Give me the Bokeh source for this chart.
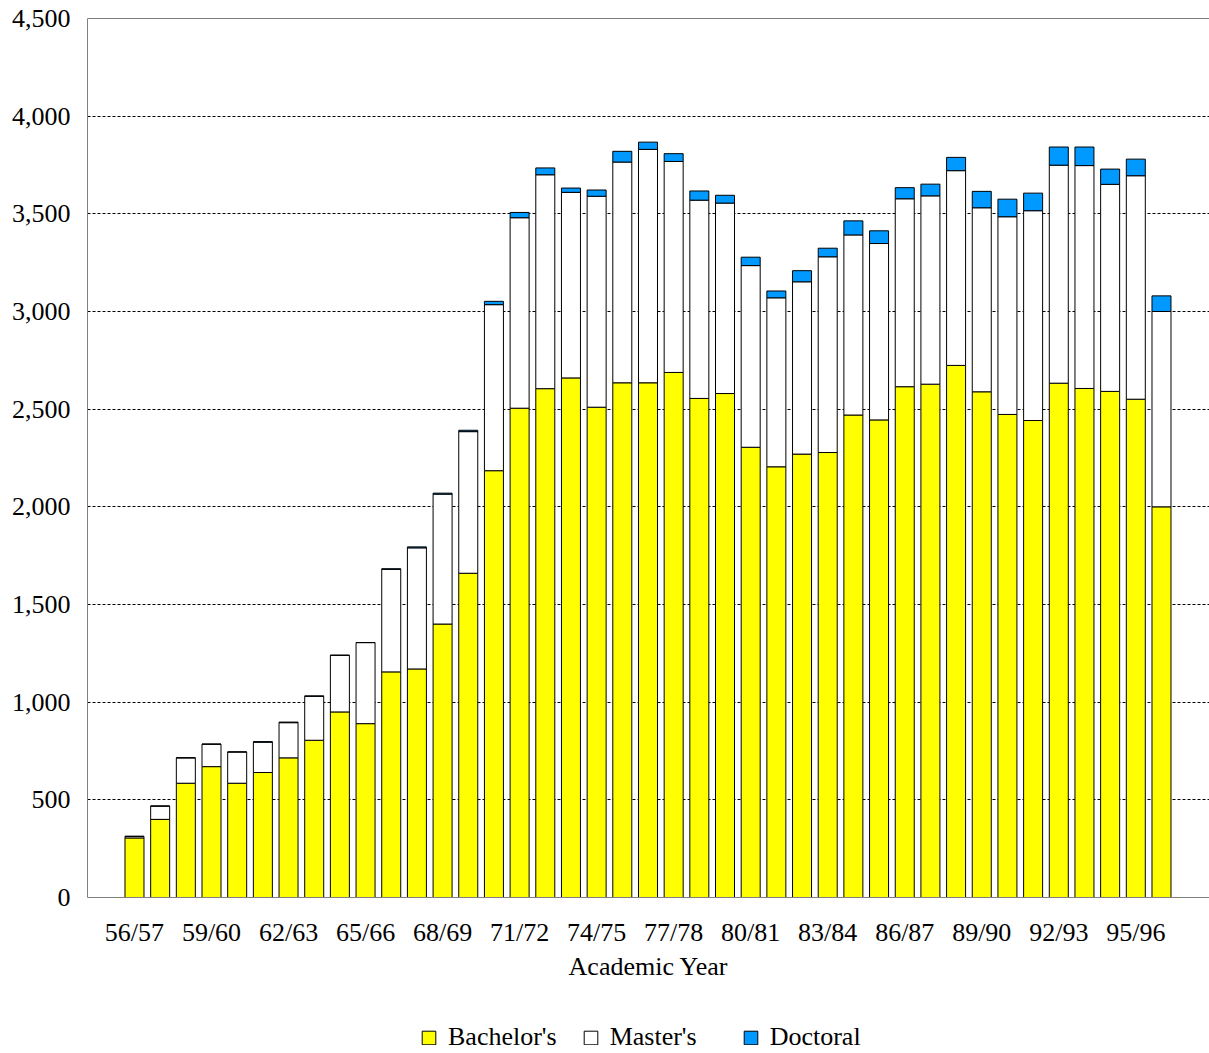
from bokeh.plotting import figure
from bokeh.layouts import column
from bokeh.models import (ColumnDataSource, Range1d, FixedTicker, NumeralTickFormatter,
                          Legend, LegendItem, Span)
from bokeh.embed import file_html
from bokeh.resources import INLINE

years = ["56/57", "57/58", "58/59", "59/60", "60/61", "61/62", "62/63", "63/64", "64/65",
         "65/66", "66/67", "67/68", "68/69", "69/70", "70/71", "71/72", "72/73", "73/74",
         "74/75", "75/76", "76/77", "77/78", "78/79", "79/80", "80/81", "81/82", "82/83",
         "83/84", "84/85", "85/86", "86/87", "87/88", "88/89", "89/90", "90/91", "91/92",
         "92/93", "93/94", "94/95", "95/96", "96/97"]
bachelors = [305, 400, 585, 670, 585, 640, 715, 805, 950, 890, 1155, 1170, 1400, 1660,
             2185, 2505, 2605, 2660, 2510, 2635, 2635, 2688, 2555, 2580, 2305, 2205, 2270,
             2278, 2470, 2445, 2615, 2628, 2724, 2589, 2473, 2442, 2633, 2606, 2591, 2551, 2000]
masters = [8, 68, 130, 115, 160, 155, 180, 225, 290, 415, 525, 620, 665, 725,
           850, 975, 1095, 950, 1080, 1130, 1195, 1080, 1015, 975, 930, 865, 882,
           1002, 922, 903, 962, 964, 997, 942, 1012, 1074, 1116, 1141, 1060, 1144, 1000]
doctoral = [0, 0, 0, 0, 0, 3, 3, 2, 0, 0, 3, 5, 5, 7,
            17, 27, 35, 22, 32, 55, 37, 40, 47, 40, 43, 35, 57,
            44, 72, 65, 57, 60, 68, 84, 90, 90, 93, 95, 78, 85, 80]
series = ["Bachelor's", "Master's", "Doctoral"]
colors = ["#FFFF00", "#FFFFFF", "#0099FF"]
label_every = 3

FONT = "Liberation Serif"
FS = "26px"
x = list(range(len(years)))
src = ColumnDataSource(dict(x=x, Bachelor=bachelors, Master=masters, Doctoral=doctoral))

p = figure(frame_width=1122, frame_height=879, output_backend="svg", toolbar_location=None,
           x_range=Range1d(-1.83, 41.87), y_range=Range1d(0, 4500),
           min_border_left=87, min_border_top=18, min_border_right=0, min_border_bottom=115)

r = p.vbar_stack(["Bachelor", "Master", "Doctoral"], x="x", width=0.74, source=src,
                 fill_color=colors, line_color="black", line_width=1)

p.outline_line_color = None
p.add_layout(Span(location=4500, dimension="width", line_color="black", line_width=1))

p.xgrid.grid_line_color = None
p.ygrid.grid_line_color = "black"
p.ygrid.grid_line_dash = "3 2"
p.ygrid.grid_line_width = 1

ya = p.yaxis[0]
ya.ticker = FixedTicker(ticks=list(range(0, 4501, 500)))
ya.formatter = NumeralTickFormatter(format="0,0")
ya.major_tick_line_color = None
ya.minor_tick_line_color = None
ya.axis_line_color = "#808080"
ya.major_label_text_font = FONT
ya.major_label_text_font_size = FS
ya.major_label_text_color = "black"
ya.major_label_standoff = 11

xa = p.xaxis[0]
xa.ticker = FixedTicker(ticks=x[::label_every])
xa.major_label_overrides = {i: years[i] for i in x[::label_every]}
xa.major_tick_line_color = None
xa.minor_tick_line_color = None
xa.axis_line_color = "#808080"
xa.major_label_text_font = FONT
xa.major_label_text_font_size = FS
xa.major_label_text_color = "black"
xa.major_label_standoff = 14
xa.axis_label = "Academic Year"
xa.axis_label_text_font = FONT
xa.axis_label_text_font_size = FS
xa.axis_label_text_font_style = "normal"
xa.axis_label_text_color = "black"
xa.axis_label_standoff = 2

# legend strip below the chart (glyph renderers hold one point outside the visible range)
lf = figure(width=1209, height=33, output_backend="svg", toolbar_location=None,
            x_axis_type=None, y_axis_type=None, x_range=Range1d(0, 1), y_range=Range1d(0, 1),
            min_border=0)
lf.outline_line_color = None
lr = [lf.vbar(x=[5], top=[5], bottom=[4], width=0.5, fill_color=c, line_color="black",
              line_width=1) for c in colors]
legend = Legend(items=[LegendItem(label=series[i], renderers=[lr[i]]) for i in range(3)],
                orientation="horizontal", location=(333, -7),
                label_text_font=FONT, label_text_font_size=FS, label_text_color="black",
                glyph_width=17, glyph_height=17, spacing=25, label_standoff=11,
                label_width=107, border_line_color=None, background_fill_alpha=0,
                margin=0, padding=0)
lf.add_layout(legend, "center")

open("out.html", "w").write(file_html(column(p, lf, spacing=0), INLINE))
